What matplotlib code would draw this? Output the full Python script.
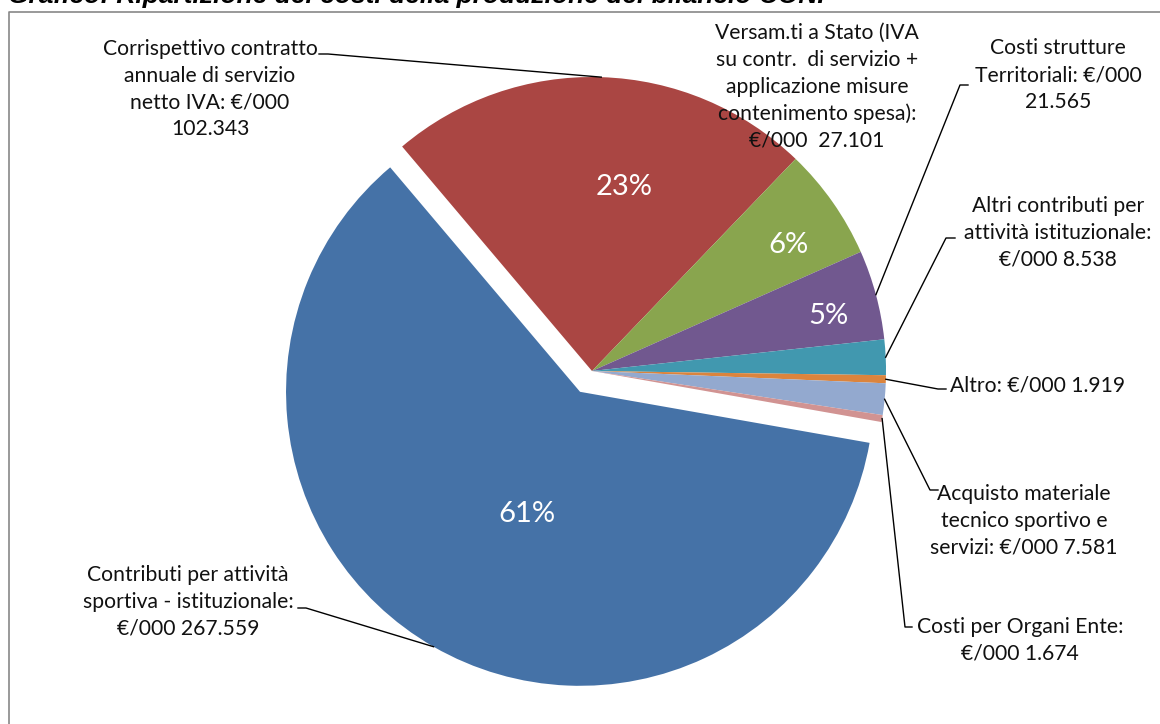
import matplotlib
matplotlib.use("Agg")
import matplotlib.pyplot as plt
import numpy as np

W, H = 1160, 724

# dati (valori in €/000 * 1000)
valori = [267559, 102343, 27101, 21565, 8538, 1919, 7581, 1674]
prefissi = [
    "Contributi per attività\nsportiva - istituzionale:\n€/000 ",
    "Corrispettivo contratto\nannuale di servizio\nnetto IVA: €/000\n",
    "Versam.ti a Stato (IVA\nsu contr.  di servizio +\napplicazione misure\ncontenimento spesa):\n€/000  ",
    "Costi strutture\nTerritoriali: €/000\n",
    "Altri contributi per\nattività istituzionale:\n€/000 ",
    "Altro: €/000 ",
    "Acquisto materiale\ntecnico sportivo e\nservizi: €/000 ",
    "Costi per Organi Ente:\n€/000 ",
]
colori = ["#4572A7", "#AA4643", "#89A54E", "#71588F",
          "#4198AF", "#DB843D", "#93A9CF", "#D19392"]
titolo = "Grafico: Ripartizione dei costi della produzione del bilancio CONI"


def fmt(v):
    return f"{v:,}".replace(",", ".")


def P(x, y):  # coordinate pixel (y verso il basso) -> dati
    return x, H - y


etichette = [p + fmt(v) for p, v in zip(prefissi, valori)]

fig = plt.figure(figsize=(W / 100, H / 100), dpi=100)
ax = fig.add_axes([0, 0, 1, 1])

esplodi = [24, 0, 0, 0, 0, 0, 0, 0]
wedges, _ = ax.pie(valori, colors=colori, startangle=-10, counterclock=False,
                   explode=esplodi, radius=294, center=P(592, 371),
                   wedgeprops=dict(linewidth=0), frame=True)
ax.set_xlim(0, W)
ax.set_ylim(0, H)
ax.set_aspect("equal")
ax.axis("off")

# cornice grigia (solo lati sinistro e superiore visibili)
ax.plot([9, 9, W + 5], [-5, H - 12, H - 12], color="#878787", lw=1.2, clip_on=False)

# titolo tagliato in alto (come nell'originale)
ax.text(8, H - 3, titolo, fontsize=19, fontweight="bold", fontstyle="italic",
        family="Liberation Sans", va="baseline", ha="left")

font = "Lato"

# percentuali sulle fette grandi
pos_pct = {0: (527, 514), 1: (624, 187), 2: (789, 245), 3: (828, 316)}
tot = sum(valori)
for i, (x, y) in pos_pct.items():
    ax.text(*P(x, y), f"{valori[i] / tot * 100:.0f}%", color="white", fontsize=21,
            family=font, ha="center", va="center")

# etichette con linee guida
pos_lab = [
    (188, 602, "center"), (210, 89, "center"), (817, 87, "center"),
    (1058, 75, "center"), (1058, 233, "center"), (950, 385, "left"),
    (1024, 521, "center"), (1020, 640, "center"),
]
gomiti = [
    ((306, 608), (298, 608)),
    ((328, 54), (319, 54)),
    None,
    ((960, 85), (968, 85)),
    ((946, 238), (955, 238)),
    ((938, 389), (946, 389)),
    ((930, 490), (938, 490)),
    ((905, 627), (912, 627)),
]

for i, w in enumerate(wedges):
    x, y, ha = pos_lab[i]
    ax.text(*P(x, y), etichette[i], fontsize=15.2, family=font, ha=ha, va="center",
            multialignment="center", linespacing=1.42, color="#111111")
    if gomiti[i] is None:
        continue
    tm = np.deg2rad((w.theta1 + w.theta2) / 2)
    cx, cy = w.center
    ax_, ay_ = cx + w.r * np.cos(tm), cy + w.r * np.sin(tm)
    (ex, ey), (fx, fy) = gomiti[i]
    ax.plot([ax_, P(ex, ey)[0], P(fx, fy)[0]], [ay_, P(ex, ey)[1], P(fx, fy)[1]],
            color="black", lw=1)

fig.savefig("out.png", dpi=100)
